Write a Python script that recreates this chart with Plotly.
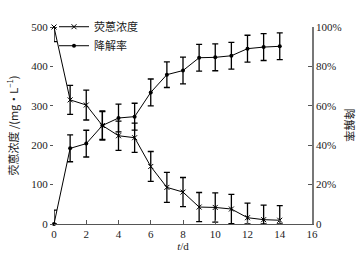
import plotly.graph_objects as go

days = [0, 1, 2, 3, 4, 5, 6, 7, 8, 9, 10, 11, 12, 13, 14]
conc = [500, 315, 302, 250, 224, 219, 146, 93, 81, 43, 42, 38, 16, 11, 9.5]
conc_err_plus = [0, 37, 38, 37, 37, 37, 38, 38, 37, 37, 37, 37, 37, 37, 37]
conc_err_minus = [37, 37, 38, 37, 37, 37, 38, 38, 37, 37, 37, 37, 16, 11, 9.5]
rate = [0, 38.4, 40.8, 50, 53.8, 54.5, 66.8, 75.8, 77.9, 84.4, 84.6, 85.4, 89.0, 89.8, 90.2]
rate_err_plus = [7, 6.8, 6.8, 7, 7, 6.8, 6.8, 6.5, 6.8, 6.8, 6.8, 6.8, 6.8, 6.8, 6.8]
rate_err_minus = [0, 6.8, 6.8, 7, 7, 6.8, 6.8, 6.5, 6.8, 6.8, 6.8, 6.8, 6.8, 6.8, 6.8]
x_ticks = [0, 2, 4, 6, 8, 10, 12, 14, 16]
y_ticks = [0, 100, 200, 300, 400, 500]
y2_ticks = [0, 20, 40, 60, 80, 100]
y2_labels = ["0", "20%", "40%", "60%", "80%", "100%"]

serif = "Liberation Serif"
cjk = "Noto Sans CJK SC"

fig = go.Figure()
fig.add_trace(go.Scatter(
    x=days, y=conc, name="荧蒽浓度", mode="lines+markers",
    line=dict(color="black", width=1),
    marker=dict(symbol="x-thin", size=5, color="black", line=dict(width=1, color="black")),
    error_y=dict(type="data", array=conc_err_plus, arrayminus=conc_err_minus,
                 color="black", thickness=1.3, width=3),
    cliponaxis=False,
))
fig.add_trace(go.Scatter(
    x=days, y=rate, name="降解率", mode="lines+markers", yaxis="y2",
    line=dict(color="black", width=1),
    marker=dict(symbol="circle", size=4, color="black"),
    error_y=dict(type="data", array=rate_err_plus, arrayminus=rate_err_minus,
                 color="black", thickness=1.3, width=3),
    cliponaxis=False,
))

fig.update_layout(
    width=363, height=257,
    margin=dict(l=54, r=51, t=13, b=33),
    paper_bgcolor="white", plot_bgcolor="white",
    font=dict(family=serif, size=11, color="#222"),
    showlegend=True,
    legend=dict(x=0.0, y=1.075, xanchor="left", yanchor="top",
                bgcolor="rgba(0,0,0,0)", itemwidth=30,
                font=dict(family=cjk, size=11, color="#222"),
                tracegroupgap=0),
    xaxis=dict(range=[0, 16], tickvals=x_ticks, showgrid=False, zeroline=False,
               showline=True, linecolor="#555", linewidth=1, automargin=False,
               ticks="inside", ticklen=4, tickcolor="#555",
               tickfont=dict(family=serif, size=11),
               title=dict(text="<i>t</i>/d", standoff=3, font=dict(family=serif, size=11))),
    yaxis=dict(range=[0, 500], tickvals=y_ticks, showgrid=False, zeroline=False,
               showline=False, ticks="outside", ticklen=3, tickcolor="#555",
               automargin=False, tickfont=dict(family=serif, size=11),
               title=dict(text="荧蒽浓度 /(mg·L<sup>−1</sup>)", standoff=10,
                          font=dict(family=cjk, size=11))),
    yaxis2=dict(range=[0, 100], overlaying="y", side="right", automargin=False,
                tickvals=y2_ticks, ticktext=y2_labels, showgrid=False, zeroline=False,
                showline=True, linecolor="#777", linewidth=1.5,
                ticks="inside", ticklen=4, tickcolor="#555",
                tickfont=dict(family=serif, size=11)),
    annotations=[dict(text="降解率", xref="paper", yref="paper", x=1.15, y=0.5,
                      xanchor="center", yanchor="middle",
                      textangle=90, showarrow=False,
                      font=dict(family=cjk, size=11, color="#222"))],
)

fig.write_html("out.html", config={"displayModeBar": False},
               post_script="document.body.style.margin='0';document.body.style.overflow='hidden';")
